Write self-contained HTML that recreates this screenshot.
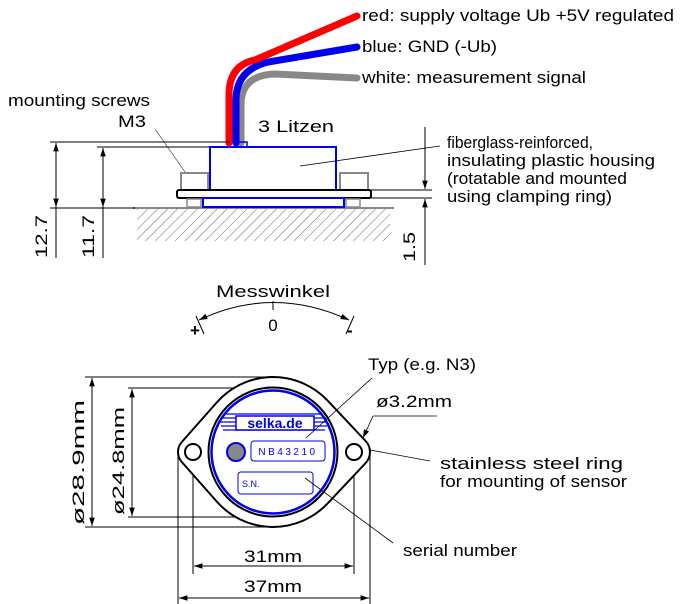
<!DOCTYPE html>
<html><head><meta charset="utf-8"><style>
html,body{margin:0;padding:0;background:#fff}
svg{display:block}
text{font-family:"Liberation Sans",Arial,sans-serif;fill:#000;font-size:17px}
</style></head><body>
<svg width="680" height="604" viewBox="0 0 680 604" xmlns="http://www.w3.org/2000/svg">
<defs>
<pattern id="h" width="7" height="7" patternUnits="userSpaceOnUse" patternTransform="rotate(45)">
<line x1="0" y1="0" x2="0" y2="7" stroke="#555" stroke-width="0.9"/>
</pattern>
<marker id="a" viewBox="0 0 12 10" refX="12" refY="5" markerWidth="12" markerHeight="7" orient="auto-start-reverse" markerUnits="userSpaceOnUse"><path d="M0,1 L12,5 L0,9z" fill="#000"/></marker>
</defs>

<!-- wires -->
<path d="M241,143 L241,105 Q241,75 275,74 L357,78" stroke="#888" stroke-width="7" fill="none" stroke-linecap="round"/>
<path d="M236,143 L236,100 Q236,70 268,62 L357,47" stroke="#0000ee" stroke-width="7" fill="none" stroke-linecap="round"/>
<path d="M229,143 L229,95 Q229,65 255,60 L357,16" stroke="#f00" stroke-width="7" fill="none" stroke-linecap="round"/>

<g lengthAdjust="spacingAndGlyphs">
<text x="362" y="21" textLength="312" lengthAdjust="spacingAndGlyphs">red: supply voltage Ub +5V regulated</text>
<text x="362" y="52" textLength="135" lengthAdjust="spacingAndGlyphs">blue: GND (-Ub)</text>
<text x="362" y="83" textLength="224" lengthAdjust="spacingAndGlyphs">white: measurement signal</text>
<text x="8" y="106" textLength="142" lengthAdjust="spacingAndGlyphs">mounting screws</text>
<text x="118" y="127" textLength="28" lengthAdjust="spacingAndGlyphs">M3</text>
<text x="258" y="132" textLength="76" lengthAdjust="spacingAndGlyphs">3 Litzen</text>
<text x="447" y="148" textLength="146" lengthAdjust="spacingAndGlyphs">fiberglass-reinforced,</text>
<text x="447" y="166" textLength="208" lengthAdjust="spacingAndGlyphs">insulating plastic housing</text>
<text x="447" y="184" textLength="180" lengthAdjust="spacingAndGlyphs">(rotatable and mounted</text>
<text x="447" y="202" textLength="165" lengthAdjust="spacingAndGlyphs">using clamping ring)</text>
</g>

<!-- ground -->
<rect x="137" y="209" width="253" height="32" fill="url(#h)"/>
<line x1="133" y1="208" x2="394" y2="208" stroke="#888" stroke-width="2"/>
<!-- housing -->
<rect x="210" y="147" width="126" height="43" fill="#fff" stroke="#0000ee" stroke-width="2"/>
<rect x="237" y="142" width="10" height="5" fill="none" stroke="#0000ee" stroke-width="1.5"/>
<rect x="181" y="173" width="27" height="17" fill="#fff" stroke="#888" stroke-width="2"/>
<rect x="340" y="173" width="28" height="17" fill="#fff" stroke="#888" stroke-width="2"/>
<rect x="177" y="190" width="194" height="8" rx="2" fill="#fff" stroke="#000" stroke-width="2"/>
<rect x="203" y="198" width="141" height="9" fill="#fff" stroke="#0000ee" stroke-width="2"/>
<rect x="187" y="199" width="14" height="8" fill="#fff" stroke="#888" stroke-width="1.5"/>
<rect x="346" y="199" width="14" height="8" fill="#fff" stroke="#888" stroke-width="1.5"/>
<line x1="155" y1="129" x2="185" y2="172" stroke="#666" stroke-width="0.8"/>
<line x1="440" y1="146" x2="300" y2="166" stroke="#000" stroke-width="0.8"/>

<!-- dims top -->
<g stroke="#000" stroke-width="1" fill="none">
<line x1="50" y1="142" x2="230" y2="142"/>
<line x1="97" y1="147" x2="210" y2="147"/>
<line x1="50" y1="208" x2="135" y2="208"/>
<line x1="56" y1="143" x2="56" y2="207" marker-start="url(#a)" marker-end="url(#a)"/>
<line x1="56" y1="207" x2="56" y2="258"/>
<line x1="103" y1="148" x2="103" y2="207" marker-start="url(#a)" marker-end="url(#a)"/>
<line x1="103" y1="207" x2="103" y2="258"/>
<line x1="370" y1="190" x2="432" y2="190"/>
<line x1="370" y1="198" x2="432" y2="198"/>
<line x1="425" y1="127" x2="425" y2="189" marker-end="url(#a)"/>
<line x1="425" y1="265" x2="425" y2="199" marker-end="url(#a)"/>
</g>
<text transform="translate(47,258) rotate(-90)" textLength="43" lengthAdjust="spacingAndGlyphs">12.7</text>
<text transform="translate(94,258) rotate(-90)" textLength="43" lengthAdjust="spacingAndGlyphs">11.7</text>
<text transform="translate(415,262) rotate(-90)" textLength="30" lengthAdjust="spacingAndGlyphs">1.5</text>

<!-- Messwinkel -->
<text x="216" y="297" textLength="114" lengthAdjust="spacingAndGlyphs">Messwinkel</text>
<path d="M199,320 Q273,285 349,320" stroke="#000" fill="none" stroke-width="1" marker-start="url(#a)" marker-end="url(#a)"/>
<line x1="273" y1="301" x2="273" y2="310" stroke="#000"/>
<line x1="196" y1="316" x2="204" y2="334" stroke="#000"/>
<line x1="354" y1="316" x2="346" y2="334" stroke="#000"/>
<text x="273" y="331" text-anchor="middle">0</text>
<text x="190" y="336" font-weight="bold">+</text>
<text x="347" y="336" font-weight="bold">-</text>

<!-- dimension lines bottom -->
<g stroke="#000" stroke-width="1" fill="none">
<line x1="85" y1="377" x2="275" y2="377"/>
<line x1="85" y1="527" x2="275" y2="527"/>
<line x1="128" y1="388" x2="270" y2="388"/>
<line x1="128" y1="517" x2="270" y2="517"/>
<line x1="92" y1="378" x2="92" y2="526" marker-start="url(#a)" marker-end="url(#a)"/>
<line x1="132" y1="389" x2="132" y2="516" marker-start="url(#a)" marker-end="url(#a)"/>
<line x1="178" y1="452" x2="178" y2="604"/>
<line x1="370" y1="452" x2="370" y2="604"/>
<line x1="193" y1="452" x2="193" y2="574"/>
<line x1="354" y1="452" x2="354" y2="574"/>
<line x1="194" y1="566" x2="353" y2="566" marker-start="url(#a)" marker-end="url(#a)"/>
<line x1="179" y1="598" x2="369" y2="598" marker-start="url(#a)" marker-end="url(#a)"/>
</g>
<text x="244" y="562" textLength="58" lengthAdjust="spacingAndGlyphs">31mm</text>
<text x="244" y="592" textLength="58" lengthAdjust="spacingAndGlyphs">37mm</text>
<text transform="translate(84,525) rotate(-90)" textLength="125" lengthAdjust="spacingAndGlyphs">ø28.9mm</text>
<text transform="translate(124,515) rotate(-90)" textLength="108" lengthAdjust="spacingAndGlyphs">ø24.8mm</text>

<!-- flange -->
<path d="M327.6,400.6 L365.6,441 A16,16 0 0 1 365.6,463 L327.6,503.4 A75,75 0 0 1 216.8,501.6 L181.7,461.9 A15,15 0 0 1 181.7,442.1 L216.8,402.4 A75,75 0 0 1 327.6,400.6Z" fill="#fff" stroke="#000" stroke-width="2"/>
<circle cx="193" cy="452" r="8" fill="#fff" stroke="#000" stroke-width="2"/>
<circle cx="354" cy="452" r="8" fill="#fff" stroke="#000" stroke-width="2"/>
<circle cx="273" cy="452" r="64.5" fill="#fff" stroke="#000" stroke-width="2"/>
<circle cx="273" cy="452" r="61.5" fill="#fff" stroke="#0000ee" stroke-width="2.5"/>
<!-- logo -->
<g stroke="#0000ee" stroke-width="1.3">
<line x1="226" y1="414" x2="322" y2="414"/>
<line x1="222" y1="418" x2="326" y2="418"/>
<line x1="220" y1="422" x2="328" y2="422"/>
<line x1="221" y1="426" x2="327" y2="426"/>
<line x1="223" y1="430" x2="325" y2="430"/>
</g>
<rect x="236" y="416" width="78" height="14" fill="#fff" stroke="#0000ee" stroke-width="1.5"/>
<text x="275" y="428" font-weight="bold" text-anchor="middle" style="fill:#0000ee;font-size:14px">selka.de</text>
<circle cx="236" cy="452" r="9" fill="#888" stroke="#0000ee" stroke-width="2"/>
<rect x="251" y="441" width="74" height="20" rx="3" fill="#fff" stroke="#0000ee" stroke-width="1"/>
<text x="288" y="455" text-anchor="middle" letter-spacing="2.5" style="fill:#0000ee;font-size:10px">NB43210</text>
<rect x="238" y="472" width="75" height="22" rx="3" fill="#fff" stroke="#0000ee" stroke-width="1"/>
<text x="242" y="487" style="fill:#0000ee;font-size:9px">S.N.</text>

<!-- leaders -->
<g stroke="#000" stroke-width="0.8" fill="none">
<line x1="372" y1="378" x2="306" y2="438"/>
<line x1="373" y1="416" x2="437" y2="416"/>
<line x1="373" y1="416" x2="363" y2="438" marker-end="url(#a)"/>
<line x1="370" y1="450" x2="430" y2="461"/>
<line x1="305" y1="478" x2="393" y2="543"/>
</g>
<text x="368" y="370" textLength="108" lengthAdjust="spacingAndGlyphs">Typ (e.g. N3)</text>
<text x="376" y="407" textLength="76" lengthAdjust="spacingAndGlyphs">ø3.2mm</text>
<text x="440" y="469" textLength="183" lengthAdjust="spacingAndGlyphs">stainless steel ring</text>
<text x="440" y="487" textLength="187" lengthAdjust="spacingAndGlyphs">for mounting of sensor</text>
<text x="403" y="556" textLength="114" lengthAdjust="spacingAndGlyphs">serial number</text>
</svg>
</body></html>
